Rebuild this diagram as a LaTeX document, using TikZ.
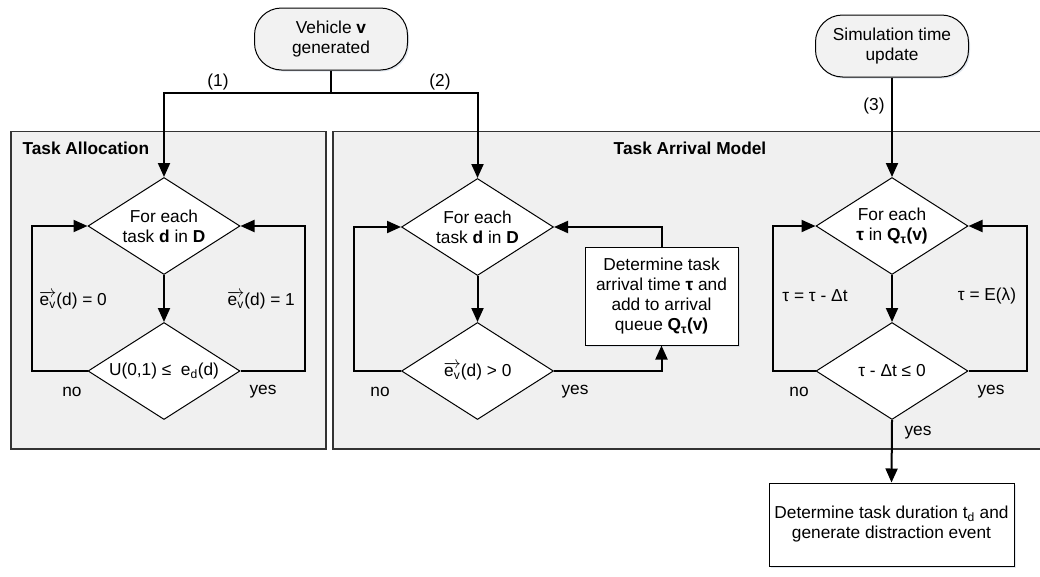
\documentclass[tikz,border=0pt]{standalone}
\usepackage{fontspec}
\setmainfont{Liberation Sans}
\usetikzlibrary{shapes.geometric, arrows.meta, shadows}
\definecolor{panelgray}{HTML}{F0F0F0}
\definecolor{termgray}{HTML}{F2F2F2}
\definecolor{shadowblue}{HTML}{BCCADB}
% vector e with subscript v
\newcommand\evec{$\overrightarrow{\mbox{e\textsubscript{v}}}$}
\begin{document}
\begin{tikzpicture}[x=1pt,y=-1pt,
  font=\fontsize{17.3}{20}\selectfont,
  panel/.style={fill=panelgray, draw=black!80, line width=1.6pt},
  softshadow/.style={drop shadow={shadow xshift=1.5pt, shadow yshift=-1.5pt, fill=shadowblue, opacity=0.45}},
  terminal/.style={rectangle, rounded corners=27pt, draw, line width=1pt, fill=termgray,
    minimum width=153pt, minimum height=62pt, align=center, inner sep=2pt, softshadow},
  decision/.style={diamond, draw, line width=1pt, fill=white, aspect=1.55, inner sep=0pt,
    minimum width=152pt, minimum height=97pt, align=center},
  process/.style={rectangle, draw, line width=1pt, fill=white, align=center, softshadow},
  title/.style={font=\fontsize{17.3}{20}\selectfont\bfseries},
  flow/.style={line width=2pt, -{Triangle[length=14pt, width=12pt]}},
  plain/.style={line width=2pt},
  lbl/.style={inner sep=0pt}]

\useasboundingbox (0,0) rectangle (1040,576);

% group panels
\draw[panel] (11,131.5) rectangle (326,449);
\draw[panel] (333,131.5) rectangle (1046,449);
\node[title, anchor=west] (tA) at (19,148) {Task Allocation};
\node[title] (tB) at (690,148) {Task Arrival Model};

% start events
\node[terminal] (V) at (331,39) {Vehicle \textbf{v}\\generated};
\node[terminal] (S) at (892,46) {Simulation time\\update};

% task allocation
\node[decision] (A1) at (164,226) {For each\\task \textbf{d} in \textbf{D}};
\node[decision] (A2) at (164,371) {U(0,1) ≤\ \ e\textsubscript{d}(d)};

% task arrival
\node[decision] (B1) at (477.5,227) {For each\\task \textbf{d} in \textbf{D}};
\node[decision] (B2) at (477.5,371) {\evec(d) > 0};
\node[process, minimum width=153pt, minimum height=98pt] (B3) at (661.5,296)
  {Determine task\\arrival time \textbf{τ} and\\add to arrival\\queue \textbf{Q\textsubscript{τ}(v)}};

% arrival queue update
\node[decision] (C1) at (892,226) {For each\\\textbf{τ} in \textbf{Q\textsubscript{τ}(v)}};
\node[decision] (C2) at (892,371) {τ - Δt ≤ 0};
\node[process, minimum width=245pt, minimum height=83pt] (D) at (891.5,524.5)
  {Determine task duration t\textsubscript{d} and\\generate distraction event};

% connectors from the vehicle event
\coordinate (J) at (331,93);
\draw[plain] (V.south) -- (J);
\draw[flow] (J) -| (A1.north);
\draw[flow] (J) -| (B1.north);
\node[lbl] (n1) at (218,82) {(1)};
\node[lbl] (n2) at (440,82) {(2)};

% task allocation loop
\draw[flow] (A1.south) -- (A2.north);
\draw[flow] (A2.west) -- ++(-56,0) |- (A1.west);
\draw[flow] (A2.east) -- ++(64,0) |- (A1.east);
\node[lbl] (a0) at (73,300) {\evec(d) = 0};
\node[lbl] (a1) at (261,300) {\evec(d) = 1};
\node[lbl] (ano) at (72,392) {no};
\node[lbl] (ayes) at (263,392) {yes};

% task arrival loop
\draw[flow] (B1.south) -- (B2.north);
\draw[flow] (B2.west) -- ++(-47,0) |- (B1.west);
\draw[flow] (B2.east) -| (B3.south);
\draw[flow] (B3.north) |- (B1.east);
\node[lbl] (bno) at (380,392) {no};
\node[lbl] (byes) at (575,392) {yes};

% simulation time loop
\draw[flow] (S.south) -- (C1.north);
\node[lbl] (n3) at (874,106) {(3)};
\draw[flow] (C1.south) -- (C2.north);
\draw[flow] (C2.west) -- ++(-43,0) |- (C1.west);
\draw[flow] (C2.east) -- ++(58,0) |- (C1.east);
\draw[flow] (C2.south) -- (D.north);
\node[lbl] (c0) at (815,296) {τ = τ - Δt};
\node[lbl] (c1) at (987,296) {τ = E(λ)};
\node[lbl] (cno) at (799,392) {no};
\node[lbl] (cyes) at (991,392) {yes};
\node[lbl] (dyes) at (918,433) {yes};

\end{tikzpicture}
\end{document}
